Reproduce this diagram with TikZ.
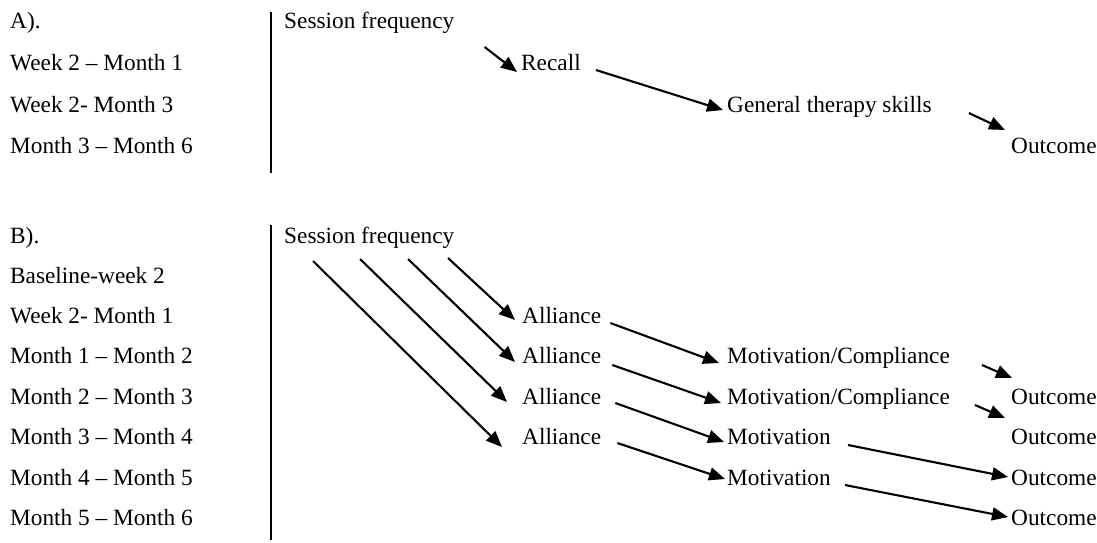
\documentclass[tikz,border=0pt]{standalone}
\usepackage{fontspec}
\setmainfont{Liberation Serif}
\usetikzlibrary{arrows.meta,positioning}

\begin{document}
\begin{tikzpicture}[
    x=1pt, y=-1pt,
    every node/.style={font=\fontsize{23.3}{28}\selectfont, inner sep=0pt, anchor=base west},
    arrow/.style={-{Triangle[length=16pt,width=13pt]}, line width=2.1pt},
    divider/.style={line width=2.6pt}
]
\useasboundingbox (0,0) rectangle (1097,542);

% Panel A: time labels (left)
\node (labA0) at (10,28) {A).};
\node (labA1) at (10,70) {Week 2 -- Month 1};
\node (labA2) at (10,112) {Week 2- Month 3};
\node (labA3) at (10,153) {Month 3 -- Month 6};

% Panel A: variables (right)
\node (sfA) at (284,28) {Session frequency};
\node (recA) at (521,70) {Recall};
\node (gtsA) at (727,112) {General therapy skills};
\node (outA) at (1011,153) {Outcome};

% Panel B: time labels (left)
\node (labB0) at (10,243) {B).};
\node (labB1) at (10,283) {Baseline-week 2};
\node (labB2) at (10,323) {Week 2- Month 1};
\node (labB3) at (10,363) {Month 1 -- Month 2};
\node (labB4) at (10,404) {Month 2 -- Month 3};
\node (labB5) at (10,444) {Month 3 -- Month 4};
\node (labB6) at (10,485) {Month 4 -- Month 5};
\node (labB7) at (10,525) {Month 5 -- Month 6};

% Panel B: variables (right)
\node (sfB) at (284,243) {Session frequency};
\node (alB1) at (522,323) {Alliance};
\node (alB2) at (522,363) {Alliance};
\node (alB3) at (522,404) {Alliance};
\node (alB4) at (522,444) {Alliance};
\node (mcB1) at (727,363) {Motivation/Compliance};
\node (mcB2) at (727,404) {Motivation/Compliance};
\node (moB3) at (727,444) {Motivation};
\node (moB4) at (727,485) {Motivation};
\node (outB1) at (1011,404) {Outcome};
\node (outB2) at (1011,444) {Outcome};
\node (outB3) at (1011,485) {Outcome};
\node (outB4) at (1011,525) {Outcome};

% Dividers
\coordinate (divAtop) at (271,12);
\coordinate (divAbot) at (271,173);
\coordinate (divBtop) at (271,225);
\coordinate (divBbot) at (271,540);
\draw[divider] (divAtop) -- (divAbot);
\draw[divider] (divBtop) -- (divBbot);

% Panel A paths
\draw[arrow] ([shift={(30,19)}]sfA.base east) -- ([shift={(-4,2)}]recA.base west);
\draw[arrow] ([shift={(15,0)}]recA.base east) -- ([shift={(-4,-2)}]gtsA.base west);
\draw[arrow] ([shift={(37,1)}]gtsA.base east) -- ([shift={(-6,-23)}]outA.base west);

% Panel B: session frequency -> alliance
\draw[arrow] ([shift={(164,15)}]sfB.base west) -- ([shift={(-7,-3)}]alB1.base west);
\draw[arrow] ([shift={(124,16)}]sfB.base west) -- ([shift={(-7,-1)}]alB2.base west);
\draw[arrow] ([shift={(76,16)}]sfB.base west) -- ([shift={(-15,-2)}]alB3.base west);
\draw[arrow] ([shift={(29,18)}]sfB.base west) -- ([shift={(-20,3)}]alB4.base west);

% Panel B: alliance -> motivation
\draw[arrow] ([shift={(9,0)}]alB1.base east) -- ([shift={(-8,0)}]mcB1.base west);
\draw[arrow] ([shift={(11,2)}]alB2.base east) -- ([shift={(-6,-1)}]mcB2.base west);
\draw[arrow] ([shift={(14,-1)}]alB3.base east) -- ([shift={(-3,-2)}]moB3.base west);
\draw[arrow] ([shift={(16,-1)}]alB4.base east) -- ([shift={(-2,-6)}]moB4.base west);

% Panel B: motivation -> outcome
\draw[arrow] ([shift={(32,2)}]mcB1.base east) -- ([shift={(1,-26)}]outB1.base west);
\draw[arrow] ([shift={(25,1)}]mcB2.base east) -- ([shift={(-6,-26)}]outB2.base west);
\draw[arrow] ([shift={(17,1)}]moB3.base east) -- ([shift={(-3,-8)}]outB3.base west);
\draw[arrow] ([shift={(14,0)}]moB4.base east) -- ([shift={(-3,-8)}]outB4.base west);

\end{tikzpicture}
\end{document}
